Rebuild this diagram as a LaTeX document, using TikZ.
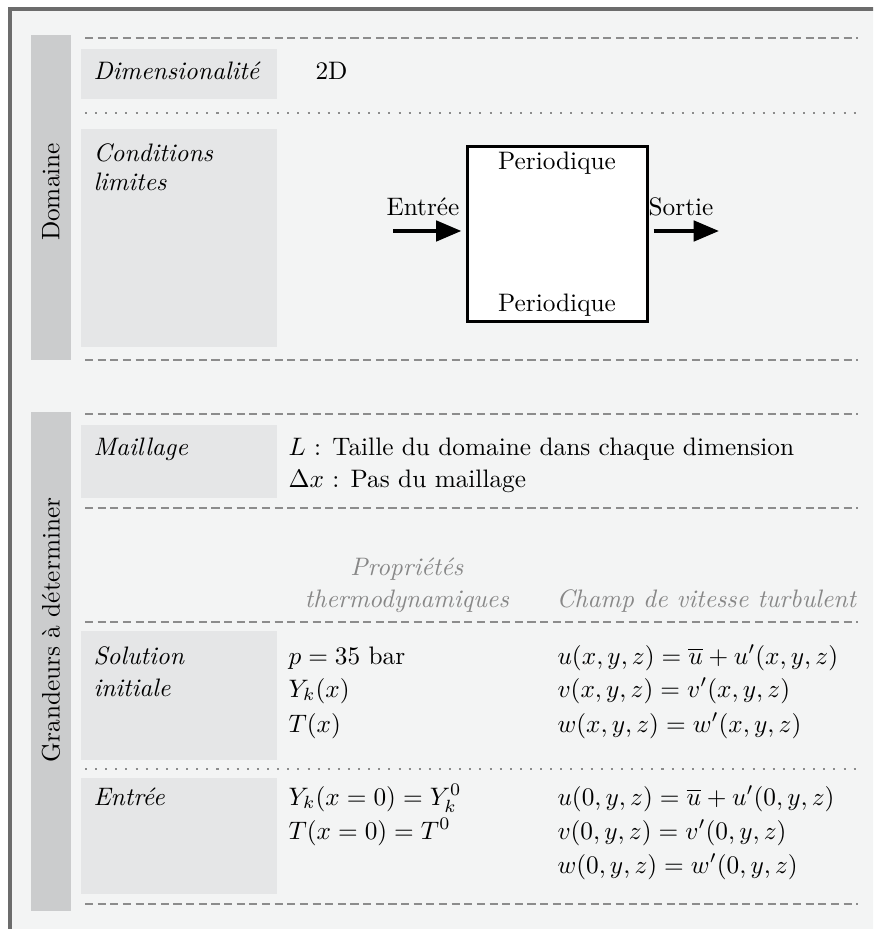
\documentclass[tikz,border=0pt]{standalone}
\usetikzlibrary{arrows.meta}

\definecolor{fond}{RGB}{243,244,244}
\definecolor{cadre}{RGB}{108,108,108}
\definecolor{bande}{RGB}{203,204,205}
\definecolor{etiq}{RGB}{229,230,231}
\definecolor{trait}{RGB}{140,140,140}
\definecolor{pale}{RGB}{135,135,135}

\tikzset{
  sidebar/.style={fill=bande},
  labelbox/.style={fill=etiq},
  sepdash/.style={draw=trait, line width=0.8pt, dash pattern=on 3.2pt off 1.8pt},
  sepdot/.style={draw=trait, line width=0.8pt, dash pattern=on 0.8pt off 3.2pt},
  txt/.style={anchor=base west, inner sep=0pt},
  ctxt/.style={anchor=base, inner sep=0pt},
  bigarrow/.style={line width=1.6pt, -{Triangle[length=10pt,width=8pt]}}
}

\begin{document}
\begin{tikzpicture}[x=0.0139cm, y=-0.0139cm]
        \useasboundingbox (0,0) rectangle (873,929);
        \clip (0,0) rectangle (873,929);

        % Background and frame
        \fill[fond] (10,9) rectangle (900,960);
        \draw[cadre, line width=1.2pt] (10,960) -- (10,9) -- (900,9);

        % Side bars
        \fill[sidebar] (31,35) rectangle (71,360);
        \fill[sidebar] (31,412) rectangle (71,911);
        \node[rotate=90] (domaine) at (51,192) {Domaine};
        \node[rotate=90] (grandeurs) at (51,630) {Grandeurs à déterminer};

        % Label boxes
        \fill[labelbox] (81,49) rectangle (277,99);
        \fill[labelbox] (81,129) rectangle (277,347);
        \fill[labelbox] (81,425) rectangle (277,498);
        \fill[labelbox] (81,631) rectangle (277,760);
        \fill[labelbox] (81,778) rectangle (277,894);

        % Separators
        \foreach \y in {38,360,414,508,622,904}
            \draw[sepdash] (85,\y) -- (858,\y);
        \foreach \y in {113,769}
            \draw[sepdot] (85,\y) -- (858,\y);

        % Domaine
        \node[txt] (dim) at (93,80) {\textit{Dimensionalité}};
        \node[txt] (dimval) at (315,80) {2D};
        \node[txt] (cond1) at (93,162) {\textit{Conditions}};
        \node[txt] (cond2) at (93,191) {\textit{limites}};

        \node[draw, line width=1.2pt, fill=white, minimum width=2.49cm, minimum height=2.42cm] (cell) at (557.5,234) {};
        \node[ctxt] (pertop) at (557,170) {Periodique};
        \node[ctxt] (perbot) at (557,312) {Periodique};
        \node[ctxt] (lin) at (423,216) {Entrée};
        \node[ctxt] (lout) at (681,216) {Sortie};
        \coordinate (in) at (393,231);
        \coordinate (out) at (719,231);
        \draw[bigarrow, shorten >=0.07cm] (in) -- (cell.west |- in);
        \draw[bigarrow, shorten <=0.07cm] (cell.east |- out) -- (out);

        % Maillage
        \node[txt] (mail) at (93,455) {\textit{Maillage}};
        \node[txt] (mail1) at (288,455) {$L$ : Taille du domaine dans chaque dimension};
        \node[txt] (mail2) at (288,487) {$\Delta x$ : Pas du maillage};

        % Column heads
        \node[ctxt, pale] (thermo1) at (407,575) {\textit{Propriétés}};
        \node[ctxt, pale] (thermo2) at (407,607) {\textit{thermodynamiques}};
        \node[txt, pale] (vit) at (556,607) {\textit{Champ de vitesse turbulent}};

        % Solution initiale
        \node[txt] (sol1) at (93,664) {\textit{Solution}};
        \node[txt] (sol2) at (93,696) {\textit{initiale}};
        \node[txt] (si1) at (288,664) {$p = 35$ bar};
        \node[txt] (si2) at (288,697) {$Y_k(x)$};
        \node[txt] (si3) at (288,732) {$T(x)$};
        \node[txt] (sv1) at (557,664) {$u(x,y,z) = \overline{u} + u'(x,y,z)$};
        \node[txt] (sv2) at (557,697) {$v(x,y,z) = v'(x,y,z)$};
        \node[txt] (sv3) at (557,732) {$w(x,y,z) = w'(x,y,z)$};

        % Entree
        \node[txt] (ent) at (93,805) {\textit{Entrée}};
        \node[txt] (ei1) at (288,805) {$Y_k(x=0) = Y_k^0$};
        \node[txt] (ei2) at (288,839) {$T(x=0) = T^0$};
        \node[txt] (ev1) at (557,805) {$u(0,y,z) = \overline{u} + u'(0,y,z)$};
        \node[txt] (ev2) at (557,839) {$v(0,y,z) = v'(0,y,z)$};
        \node[txt] (ev3) at (557,873) {$w(0,y,z) = w'(0,y,z)$};
    \end{tikzpicture}
\end{document}
